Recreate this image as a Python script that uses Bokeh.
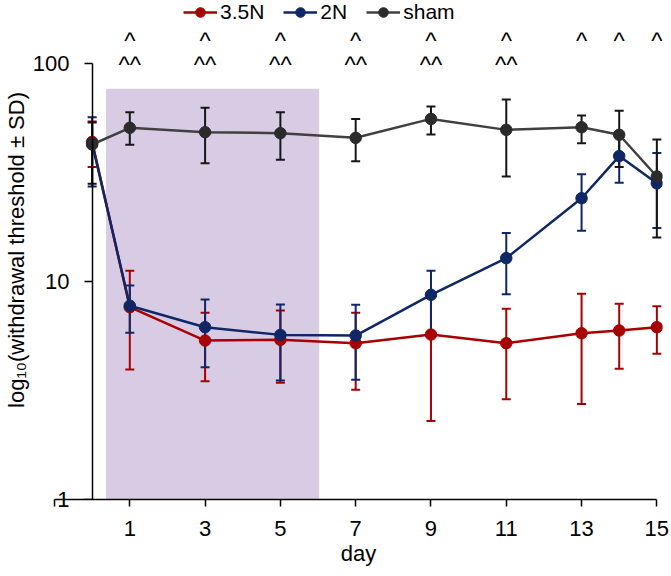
from bokeh.plotting import figure
from bokeh.models import (ColumnDataSource, Whisker, TeeHead, LogAxis, FixedTicker,
                          Legend, LegendItem, Range1d)
from bokeh.core.properties import value
from bokeh.embed import file_html
from bokeh.resources import INLINE

# ---------------- data ----------------
days = [0, 1, 3, 5, 7, 9, 11, 13, 14, 15]

n35_mean = [43.7, 7.62, 5.36, 5.40, 5.21, 5.71, 5.21, 5.79, 5.96, 6.17]
n35_upper = [54.2, 11.2, 7.18, 7.36, 7.18, 8.6, 7.49, 8.78, 7.9, 7.7]
n35_lower = [33.5, 3.95, 3.49, 3.43, 3.19, 2.29, 2.88, 2.74, 3.98, 4.66]

n2_mean = [43.0, 7.74, 6.17, 5.69, 5.65, 8.69, 12.8, 24.1, 37.6, 28.2]
n2_upper = [56.7, 9.59, 8.27, 7.84, 7.82, 11.2, 16.7, 31.0, 46.0, 38.8]
n2_lower = [27.3, 5.82, 4.04, 3.51, 3.54, 5.8, 8.74, 17.1, 28.4, 17.6]

sham_mean = [42.5, 50.7, 48.4, 47.9, 45.6, 55.7, 49.6, 51.0, 47.1, 30.3]
sham_upper = [53.6, 59.8, 62.6, 59.7, 55.7, 63.5, 68.4, 57.7, 60.7, 44.8]
sham_lower = [28.1, 42.4, 34.9, 36.2, 35.6, 47.2, 30.3, 43.1, 33.5, 15.9]

band_start, band_end, band_top = 0.37, 6.03, 76.5

sig1_days = [1, 3, 5, 7, 9, 11, 13, 14, 15]
sig1_text = ["^"] * len(sig1_days)
sig1_level = 128.0
sig2_days = [1, 3, 5, 7, 9, 11]
sig2_text = ["^^"] * len(sig2_days)
sig2_level = 98.7

x_ticks = [-1, 1, 3, 5, 7, 9, 11, 13, 15]
y_ticks = [1, 10, 100]

# ---------------- style ----------------
FONT = "Liberation Sans"
RED = "#A80000"
BLUE = "#0F2766"
SHAM_LINE = "#404040"
SHAM_PT = "#2B2B2B"
SHAM_ERR = "#161616"
BAND = "#D8CCE5"

p = figure(width=671, height=576,
           x_range=Range1d(-1, 15.15), y_range=Range1d(1, 194.5),
           y_axis_type="log", y_axis_location=None,
           output_backend="svg", toolbar_location=None,
           min_border_left=50, min_border_right=9,
           min_border_top=0, min_border_bottom=77)
p.xgrid.visible = False
p.ygrid.visible = False
p.outline_line_color = None
p.background_fill_color = "white"

# shaded period
p.quad(left=[band_start], right=[band_end], bottom=[1], top=[band_top],
       fill_color=BAND, line_color=None, level="underlay")

series = [
    ("3.5N", n35_mean, n35_upper, n35_lower, RED, RED, RED),
    ("2N", n2_mean, n2_upper, n2_lower, BLUE, BLUE, BLUE),
    ("sham", sham_mean, sham_upper, sham_lower, SHAM_LINE, SHAM_PT, SHAM_ERR),
]

sources = []
for name, m, u, l, lc, pc, ec in series:
    src = ColumnDataSource(dict(x=days, y=m, upper=u, lower=l))
    sources.append(src)
    w = Whisker(source=src, base="x", upper="upper", lower="lower",
                line_color=ec, line_width=2, level="underlay",
                upper_head=TeeHead(size=9, line_color=ec, line_width=2),
                lower_head=TeeHead(size=9, line_color=ec, line_width=2))
    p.add_layout(w)

items = []
for (name, m, u, l, lc, pc, ec), src in zip(series, sources):
    ln = p.line("x", "y", source=src, line_color=lc, line_width=2.5)
    pt = p.scatter("x", "y", source=src, size=11.5, fill_color=pc, line_color=pc)
    items.append(LegendItem(label=name, renderers=[ln, pt]))

# significance markers
p.text(x=sig1_days, y=[sig1_level] * len(sig1_days), text=sig1_text,
       text_font=value(FONT), text_font_size="24px", text_color="black",
       text_align="center", text_baseline="alphabetic")
p.text(x=sig2_days, y=[sig2_level] * len(sig2_days), text=sig2_text,
       text_font=value(FONT), text_font_size="24px", text_color="black",
       text_align="center", text_baseline="alphabetic")

# x axis
xa = p.xaxis[0]
xa.ticker = FixedTicker(ticks=x_ticks)
xa.major_label_overrides = {-1: ""}
xa.bounds = (-1, 15)
xa.axis_label = "day"
xa.axis_label_text_font = FONT
xa.axis_label_text_font_style = "normal"
xa.axis_label_text_font_size = "22px"
xa.axis_label_text_color = "black"
xa.axis_label_standoff = 2
xa.major_label_text_font = FONT
xa.major_label_text_font_size = "22px"
xa.major_label_standoff = 14
xa.major_tick_out = 7
xa.major_tick_in = 0
xa.minor_tick_line_color = None
xa.axis_line_width = 1.5
xa.major_tick_line_width = 1.5
xa.axis_line_color = "black"
xa.major_tick_line_color = "black"
xa.major_label_text_color = "black"

# y axis line + ticks at day 0
ya_line = LogAxis(fixed_location=0, bounds=(1, 100),
                  ticker=FixedTicker(ticks=y_ticks),
                  major_label_overrides={1: "", 10: "", 100: ""})
ya_line.major_tick_out = 8
ya_line.major_tick_in = 0
ya_line.minor_tick_line_color = None
ya_line.axis_line_width = 1.5
ya_line.major_tick_line_width = 1.5
ya_line.axis_line_color = "black"
ya_line.major_tick_line_color = "black"
p.add_layout(ya_line, "left")

# y axis labels and title
ya = LogAxis(bounds=(1, 100), ticker=FixedTicker(ticks=y_ticks),
             major_label_overrides={1: "1", 10: "10", 100: "100"})
ya.axis_line_color = None
ya.major_tick_line_color = None
ya.minor_tick_line_color = None
ya.major_tick_out = 0
ya.major_tick_in = 0
ya.major_label_standoff = -15
ya.major_label_text_font = FONT
ya.major_label_text_font_size = "22px"
ya.major_label_text_color = "black"
ya.axis_label = "log\u2081\u2080(withdrawal threshold \u00b1 SD)"
ya.axis_label_text_font = FONT
ya.axis_label_text_font_style = "normal"
ya.axis_label_text_font_size = "22px"
ya.axis_label_text_color = "black"
ya.axis_label_standoff = 1
p.add_layout(ya, "left")

legend = Legend(items=items, orientation="horizontal", location=(129, 475),
                label_text_font=FONT, label_text_font_size="21px",
                label_text_color="black",
                glyph_width=34, glyph_height=24, label_height=24,
                label_standoff=3, spacing=19, padding=0, margin=0,
                background_fill_alpha=0, border_line_color=None)
p.add_layout(legend)

open("out.html", "w").write(file_html(p, INLINE))
